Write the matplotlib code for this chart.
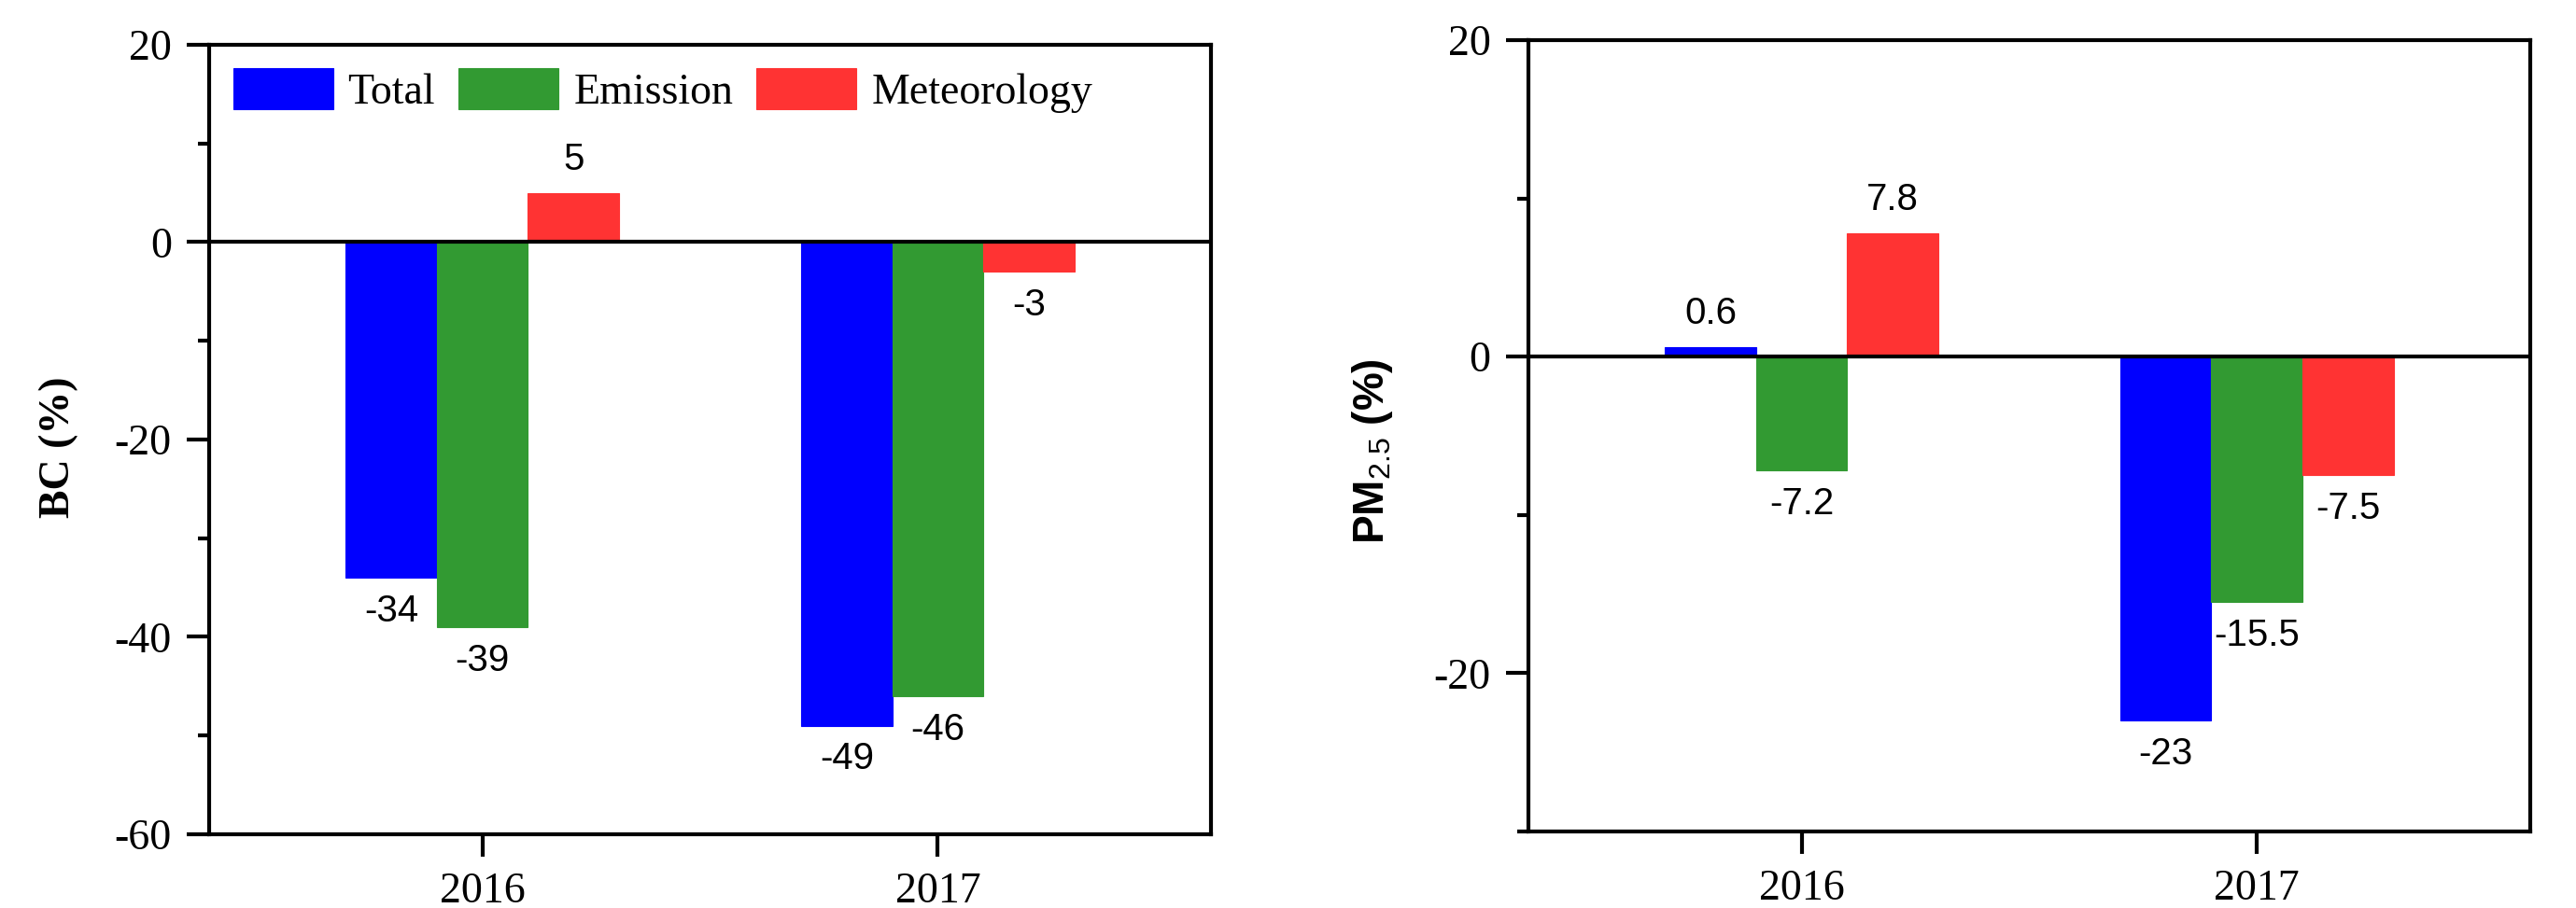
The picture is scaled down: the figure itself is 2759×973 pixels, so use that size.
import matplotlib
matplotlib.use("Agg")
import matplotlib.pyplot as plt
import numpy as np

years = ["2016", "2017"]
series = ["Total", "Emission", "Meteorology"]
colors = ["#0000ff", "#329a32", "#ff3333"]

bc_total = [-34, -49]
bc_emission = [-39, -46]
bc_met = [5, -3]

pm_total = [0.6, -23]
pm_emission = [-7.2, -15.5]
pm_met = [7.8, -7.5]

bc_labels = [["-34", "-49"], ["-39", "-46"], ["5", "-3"]]
pm_labels = [["0.6", "-23"], ["-7.2", "-15.5"], ["7.8", "-7.5"]]

plt.rcParams["mathtext.fontset"] = "custom"
plt.rcParams["mathtext.rm"] = "Liberation Sans"
plt.rcParams["mathtext.default"] = "rm"

serif = "Liberation Serif"
sans = "Liberation Sans"

fig = plt.figure(figsize=(27.59, 9.73), dpi=100)
ax1 = fig.add_axes([0.0812, 0.0812, 0.3889, 0.8695])
ax2 = fig.add_axes([0.5933, 0.0843, 0.3889, 0.8715])

x = np.arange(1, len(years) + 1)
w = 0.2


def draw(ax, data, labels, ylim, major, minor):
    for i, vals in enumerate(data):
        pos = x + (i - 1) * w
        bars = ax.bar(pos, vals, w, color=colors[i], edgecolor=colors[i],
                      linewidth=0.8, label=series[i], zorder=2)
        for b, v, t in zip(bars, vals, labels[i]):
            off = 12 if v > 0 else -12
            ax.annotate(t, (b.get_x() + b.get_width() / 2, v),
                        xytext=(0, off), textcoords="offset points",
                        ha="center", va="bottom" if v > 0 else "top",
                        fontsize=29, family=sans)
    ax.axhline(0, color="k", lw=3, zorder=3)
    ax.set_xlim(0.4, 2.6)
    ax.set_ylim(*ylim)
    ax.set_xticks(x)
    ax.set_xticklabels(years, family=serif, fontsize=33)
    ax.set_yticks(major)
    ax.set_yticks(minor, minor=True)
    ax.set_yticklabels([str(v) for v in major], family=serif, fontsize=33)
    for s in ax.spines.values():
        s.set_linewidth(3)
    ax.tick_params(axis="both", which="major", direction="out", length=17,
                   width=3, pad=12)
    ax.tick_params(axis="y", which="minor", direction="out", length=9, width=3)


draw(ax1, [bc_total, bc_emission, bc_met], bc_labels, (-60, 20),
     [20, 0, -20, -40, -60], [10, -10, -30, -50])
draw(ax2, [pm_total, pm_emission, pm_met], pm_labels, (-30, 20),
     [20, 0, -20], [10, -10, -30])

ax1.set_ylabel("BC (%)", family=serif, fontweight="bold", fontsize=33)
ax1.yaxis.set_label_coords(-0.13, 0.49)
ax2.set_ylabel(r"PM$_{2.5}$ (%)", family=sans, fontweight="bold", fontsize=33)
ax2.yaxis.set_label_coords(-0.133, 0.48)

ax1.legend(loc="upper left", bbox_to_anchor=(0.024, 0.97), ncol=3,
           frameon=False, prop={"family": serif, "size": 33},
           handlelength=2.33, handleheight=1.09, handletextpad=0.35,
           columnspacing=0.55, borderpad=0, borderaxespad=0)

fig.savefig("out.png", dpi=100)
